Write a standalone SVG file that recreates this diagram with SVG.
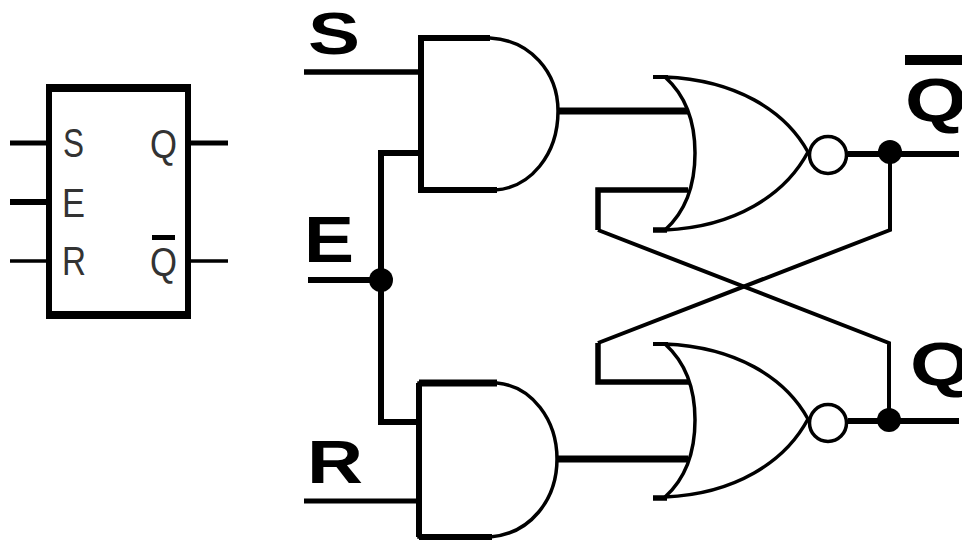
<svg xmlns="http://www.w3.org/2000/svg" width="962" height="540" viewBox="0 0 962 540">
<defs>
<style>
.w{fill:none;stroke:#000;stroke-linecap:butt;stroke-linejoin:miter}
.g{fill:#fff;stroke:#000;stroke-width:3.5}
.d{fill:#000}
.b{font-family:"Liberation Sans",Arial,sans-serif;font-weight:700;fill:#000}
.t{font-family:"Liberation Sans",Arial,sans-serif;font-weight:400;fill:#333;font-size:41px}
</style>
<path id="nor" d="M665 77C735 80 785 110 808 152C785 195 735 227 665 230C685 212 695 185 695 153C695 122 685 95 665 77Z"/>
</defs>
<rect width="962" height="540" fill="#fff"/>
<g id="connectors">
<path class="w" stroke-width="5" d="M10 143H46M191 143H228"/>
<path class="w" stroke-width="6" d="M10 202H46"/>
<path class="w" stroke-width="3.5" d="M10 261H46M191 261H228"/>
<path class="w" stroke-width="5.5" d="M304 72H420"/>
<path class="w" stroke-width="6" d="M308 280H381"/>
<path class="w" stroke-width="6" d="M418 153H381V422H418"/>
<path class="w" stroke-width="5" d="M304 501H418"/>
<path class="w" stroke-width="7" d="M558 111H688M557 459H688"/>
<path class="w" stroke-width="6" d="M848 154H959M848 421H959"/>
<path class="w" stroke-width="5.5" d="M688 190H598V230"/>
<path class="w" stroke-width="4" d="M598 230L889 343V420"/>
<path class="w" stroke-width="5.5" d="M690 382H598V343"/>
<path class="w" stroke-width="4" d="M598 343L890 230V152"/>
</g>
<g id="symbol">
<path fill="#fff" stroke="none" d="M49 88H188V315H49Z"/>
<path fill="#000" fill-rule="evenodd" d="M46 84H191V319H46ZM52 92V311H185V92Z"/>
<text class="t" x="63" y="157" textLength="21" lengthAdjust="spacingAndGlyphs">S</text>
<text class="t" x="62" y="217" textLength="23" lengthAdjust="spacingAndGlyphs">E</text>
<text class="t" x="62" y="275" textLength="24" lengthAdjust="spacingAndGlyphs">R</text>
<text class="t" x="150" y="158" textLength="27" lengthAdjust="spacingAndGlyphs">Q</text>
<text class="t" x="150" y="276" textLength="27" lengthAdjust="spacingAndGlyphs">Q</text>
<rect x="152" y="235" width="23" height="5" fill="#000"/>
</g>
<g id="and-top">
<path class="g" d="M421 38H490C530 40 558 72 558 111C558 155 530 188 495 190H421Z"/>
<path class="w" stroke-width="6" d="M490 38H421V190H497"/>
</g>
<g id="and-bottom">
<path class="g" d="M419 383H497C532 386 557 420 557 459C557 500 530 534 490 537H419Z"/>
<path class="w" stroke-width="6" d="M419 537V383"/>
<path class="w" stroke-width="7" d="M419 383H497"/>
<path class="w" stroke-width="6" d="M419 537H492"/>
</g>
<g id="nor-top">
<use href="#nor" class="g"/>
<path class="w" stroke-width="4" d="M653 77H668"/>
<path class="w" stroke-width="5.5" d="M653 230H667"/>
<circle class="g" cx="828" cy="155" r="18.5"/>
</g>
<g id="nor-bottom">
<use href="#nor" class="g" y="267"/>
<path class="w" stroke-width="4" d="M653 344H668"/>
<path class="w" stroke-width="5.5" d="M653 498H667"/>
<circle class="g" cx="828" cy="423" r="18.5"/>
</g>
<g id="junctions">
<circle class="d" cx="381" cy="280" r="12"/>
<circle class="d" cx="890" cy="152" r="12"/>
<circle class="d" cx="889" cy="420" r="12"/>
</g>
<g id="labels">
<text class="b" font-size="59" x="308" y="54" textLength="52" lengthAdjust="spacingAndGlyphs">S</text>
<text class="b" font-size="64" x="304" y="262" textLength="50" lengthAdjust="spacingAndGlyphs">E</text>
<text class="b" font-size="62" x="307" y="483" textLength="56" lengthAdjust="spacingAndGlyphs">R</text>
<text class="b" font-size="62" x="905" y="121" textLength="62" lengthAdjust="spacingAndGlyphs">Q</text>
<text class="b" font-size="62" x="910" y="385" textLength="62" lengthAdjust="spacingAndGlyphs">Q</text>
<rect x="905" y="55" width="57" height="10" fill="#000"/>
</g>
</svg>
